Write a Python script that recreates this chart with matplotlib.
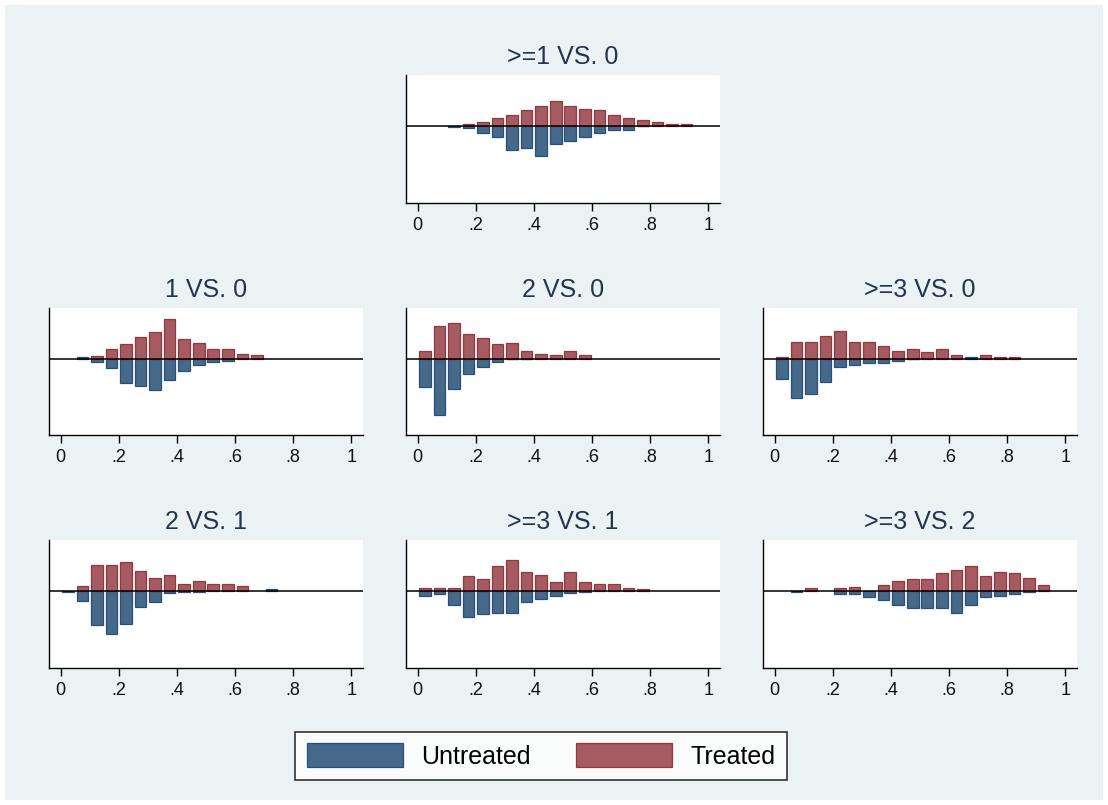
import numpy as np
import matplotlib.pyplot as plt
from matplotlib.patches import Rectangle

plt.rcParams['font.family'] = ['Liberation Sans', 'DejaVu Sans']

# bin centres of the propensity score histograms (bin width .05)
centres = [0.025, 0.075, 0.125, 0.175, 0.225, 0.275, 0.325, 0.375, 0.425, 0.475,
           0.525, 0.575, 0.625, 0.675, 0.725, 0.775, 0.825, 0.875, 0.925, 0.975]

titles = [">=1 VS. 0", "1 VS. 0", "2 VS. 0", ">=3 VS. 0", "2 VS. 1", ">=3 VS. 1", ">=3 VS. 2"]

# bar heights (treated up, untreated drawn downwards)
treated_1p_0 = [0, 0, 0, 0.7, 1.2, 2.5, 3.4, 4.7, 6.1, 7.5, 6.1, 5.2, 4.7, 3.3, 2.5, 1.7, 1.2, 0.7, 0.7, 0]
untreated_1p_0 = [0, 0, -0.15, -0.7, -2.0, -3.3, -7.0, -6.6, -8.9, -5.2, -4.3, -3.4, -2.0, -1.1, -1.1, -0.1, 0, 0, 0, 0]

treated_1_0 = [0, 0, 0.7, 2.9, 4.3, 6.6, 8.0, 12.1, 6.1, 4.7, 2.9, 2.9, 1.5, 1.1, 0, 0, 0, 0, 0, 0]
untreated_1_0 = [0, 0.5, -1.0, -2.9, -7.4, -8.3, -9.3, -6.5, -3.8, -1.9, -1.1, -0.6, 0, 0, 0, 0, 0, 0, 0, 0]

treated_2_0 = [2.4, 9.8, 10.7, 7.5, 6.2, 4.3, 4.8, 2.4, 1.5, 1.1, 2.4, 1.1, 0, 0, 0, 0, 0, 0, 0, 0]
untreated_2_0 = [-8.4, -17.0, -9.2, -4.7, -2.4, -1.0, -0.15, -0.15, 0, 0, 0, 0, 0, 0, 0, 0, 0, 0, 0, 0]

treated_3p_0 = [0.6, 5.1, 5.1, 6.9, 8.3, 5.1, 5.1, 3.7, 2.3, 2.8, 1.9, 2.8, 1.0, 0, 1.0, 0.6, 0.6, 0, 0, 0]
untreated_3p_0 = [-6.2, -11.7, -10.7, -7.1, -2.5, -2.0, -1.2, -1.2, -0.7, -0.2, 0, 0, 0, 0.4, 0, 0, 0, 0, 0, 0]

treated_2_1 = [0, 1.6, 7.9, 7.9, 8.8, 6.1, 3.8, 4.7, 2.0, 2.9, 2.0, 2.0, 1.6, 0, 0, 0, 0, 0, 0, 0]
untreated_2_1 = [-0.15, -3.0, -10.2, -12.9, -9.7, -4.7, -3.4, -0.6, -0.15, -0.15, 0, 0, 0, 0, 0.5, 0, 0, 0, 0, 0]

treated_3p_1 = [0.8, 0.8, 0.8, 4.4, 3.5, 7.5, 9.4, 5.7, 4.8, 2.6, 5.7, 2.6, 2.1, 2.1, 0.8, 0.7, 0, 0, 0, 0]
untreated_3p_1 = [-1.4, -1.0, -4.1, -7.8, -6.9, -6.4, -6.4, -3.2, -2.3, -1.4, -0.5, -0.15, 0, 0, 0, 0, 0, 0, 0, 0]

treated_3p_2 = [0, 0, 0.8, 0, 0.8, 1.3, 0, 1.7, 3.0, 3.5, 3.5, 5.3, 6.2, 7.6, 4.4, 5.7, 5.3, 3.9, 1.7, 0]
untreated_3p_2 = [0, -0.15, 0, 0, -1.0, -1.0, -1.9, -2.8, -4.1, -5.1, -5.1, -5.1, -6.4, -4.1, -1.9, -1.4, -1.0, -0.15, 0, 0]

treated = [treated_1p_0, treated_1_0, treated_2_0, treated_3p_0, treated_2_1, treated_3p_1, treated_3p_2]
untreated = [untreated_1p_0, untreated_1_0, untreated_2_0, untreated_3p_0, untreated_2_1, untreated_3p_1, untreated_3p_2]

xticks = [0, 0.2, 0.4, 0.6, 0.8, 1]
xticklabels = ["0", ".2", ".4", ".6", ".8", "1"]

W, H = 1108, 805
# panel boxes in pixels: left, top, right, bottom
boxes = [(406, 75, 720, 203),
         (49, 308, 363, 435), (406, 308, 720, 435), (763, 308, 1077, 435),
         (49, 540, 363, 668), (406, 540, 720, 668), (763, 540, 1077, 668)]

bg = '#EAF2F3'
blue, blue_edge = '#476989', '#26507A'
red, red_edge = '#A55B61', '#92383F'

fig = plt.figure(figsize=(W / 100, H / 100), dpi=100)
fig.patch.set_facecolor('white')
fig.add_artist(Rectangle((5 / W, 5 / H), 1 - 10 / W, 1 - 10 / H, transform=fig.transFigure,
                         facecolor=bg, edgecolor='none', zorder=-10))

x = np.array(centres)
for i in range(len(titles)):
    l, t, r, b = boxes[i]
    ax = fig.add_axes([l / W, 1 - b / H, (r - l) / W, (b - t) / H])
    ax.set_facecolor('white')
    u = np.array(untreated[i])
    tr = np.array(treated[i])
    bu = ax.bar(x[u != 0], u[u != 0], width=0.04, color=blue, edgecolor=blue_edge, linewidth=0.9)
    bt = ax.bar(x[tr != 0], tr[tr != 0], width=0.04, color=red, edgecolor=red_edge, linewidth=0.9)
    ax.axhline(0, color='black', lw=1.1, zorder=5)
    ax.set_xlim(-0.04, 1.04)
    ax.set_ylim(-23.0, 15.3)
    ax.set_yticks([])
    ax.set_xticks(xticks)
    ax.set_xticklabels(xticklabels, fontsize=13, color='#111111')
    ax.tick_params(axis='x', direction='out', length=6, width=1, pad=4)
    for s in ['top', 'right']:
        ax.spines[s].set_visible(False)
    for s in ['left', 'bottom']:
        ax.spines[s].set_linewidth(1)
    ax.set_title(titles[i], fontsize=18, color='#23344f', pad=8)
    if i == 0:
        handles = [bu, bt]

leg = fig.legend(handles, ['Untreated', 'Treated'], loc='center', bbox_to_anchor=(541 / W, 1 - 756 / H),
                 ncol=2, fontsize=18, frameon=True, fancybox=False, edgecolor='black',
                 handlelength=3.84, handleheight=1.08, handletextpad=0.75, columnspacing=1.8,
                 borderpad=0.45)
leg.get_frame().set_linewidth(1.2)

fig.savefig('out.png', dpi=100, facecolor=fig.get_facecolor())
